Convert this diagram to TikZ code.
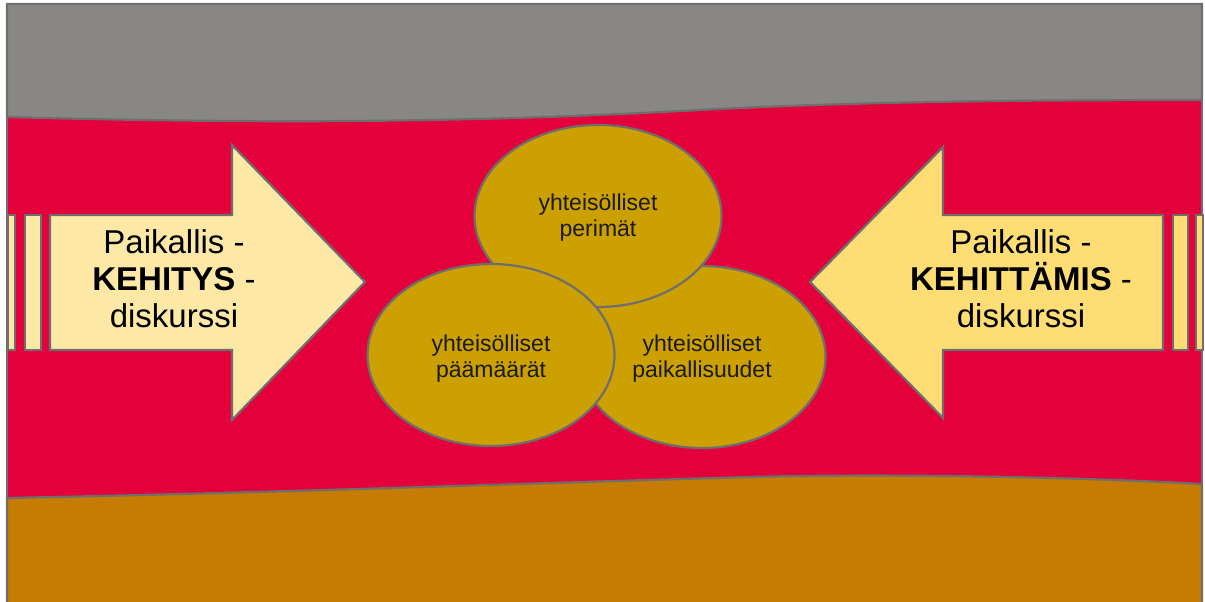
\documentclass[tikz,border=0pt]{standalone}
\usepackage{fontspec}
\setmainfont{Liberation Sans}
\usetikzlibrary{shapes.geometric}
\definecolor{bandgray}{HTML}{888783}
\definecolor{bandred}{HTML}{E4003A}
\definecolor{bandorange}{HTML}{C67B02}
\definecolor{gold}{HTML}{CBA000}
\definecolor{paleyellow}{HTML}{FDE9A5}
\definecolor{warmyellow}{HTML}{FDDD74}
\definecolor{edgegray}{HTML}{6E6E6E}
\definecolor{inktext}{HTML}{1A1A1A}
\tikzset{
  edge/.style={draw=edgegray, line width=2.2pt, line join=miter},
  blob/.style={ellipse, edge, fill=gold, inner sep=0pt, minimum width=247pt, minimum height=182pt},
  blobtext/.style={align=center, inner sep=0pt, text=inktext, font=\fontsize{23}{26}\selectfont},
  arrowtext/.style={align=center, font=\fontsize{33}{37}\selectfont, inner sep=0pt}
}
\begin{document}
\begin{tikzpicture}[x=1pt, y=-1pt]
\useasboundingbox (0,0) rectangle (1205,602);
% bands
\fill[bandred] (7,4) rectangle (1202,602);
\path[edge, fill=bandgray] (7,4) -- (1202,4) -- (1202,100)
  .. controls (1000,100) and (850,102) .. (700,110)
  .. controls (500,121) and (300,125) .. (7,117) -- cycle;
\path[edge, fill=bandorange] (7,602) -- (7,498)
  .. controls (300,492) and (500,484) .. (750,477)
  .. controls (900,473) and (1100,478) .. (1202,484) -- (1202,602);
\draw[edge] (7,4) -- (7,602);
\draw[edge] (1202,4) -- (1202,602);
% left arrow
\path[edge, fill=paleyellow] (8,215) rectangle (15,350);
\path[edge, fill=paleyellow] (25,215) rectangle (41,350);
\path[edge, fill=paleyellow] (50,215) -- (232,215) -- (232,145) -- (365,282) -- (232,420) -- (232,350) -- (50,350) -- cycle;
\node[arrowtext] (lefttext) at (174,279) {Paikallis -\\\textbf{KEHITYS} -\\diskurssi};
% right arrow
\path[edge, fill=warmyellow] (1173,215) rectangle (1188,350);
\path[edge, fill=warmyellow] (1196,215) rectangle (1203,350);
\path[edge, fill=warmyellow] (1163,215) -- (943,215) -- (943,147) -- (810,282) -- (943,418) -- (943,350) -- (1163,350) -- cycle;
\node[arrowtext] (righttext) at (1021,279) {Paikallis -\\\textbf{KEHITTÄMIS} -\\diskurssi};
% ellipses
\node[blob] (localities) at (702,357) {};
\node[blobtext] (localitiestext) at (702,359) {yhteisölliset\\paikallisuudet};
\node[blob] (heritages) at (598,216) {};
\node[blobtext] (heritagestext) at (598,218) {yhteisölliset\\perimät};
\node[blob] (goals) at (491,355) {};
\node[blobtext] (goalstext) at (491,359) {yhteisölliset\\päämäärät};
\end{tikzpicture}
\end{document}
